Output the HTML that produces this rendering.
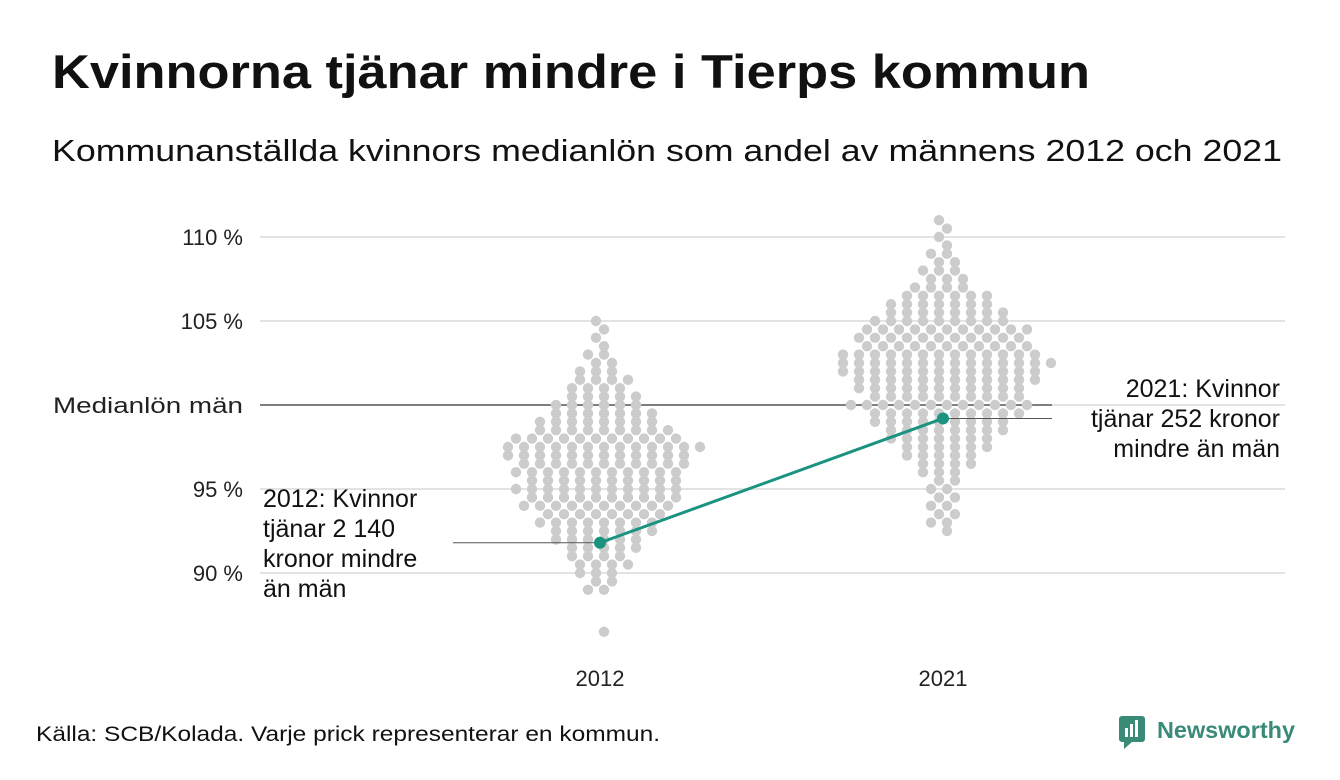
<!DOCTYPE html>
<html><head><meta charset="utf-8">
<style>
body{margin:0;background:#fff;width:1340px;height:780px;overflow:hidden;font-family:"Liberation Sans",sans-serif;}
svg{display:block}
</style></head>
<body>
<svg id="chart" width="1340" height="780">
<text x="52" y="88" font-size="47" font-weight="bold" fill="#111" textLength="1038" lengthAdjust="spacingAndGlyphs">Kvinnorna tjänar mindre i Tierps kommun</text>
<text x="52" y="161" font-size="31" fill="#111" textLength="1230" lengthAdjust="spacingAndGlyphs">Kommunanställda kvinnors medianlön som andel av männens 2012 och 2021</text>
<g id="grid"></g>
<g id="dots"></g>
<g id="anno"></g>
<text x="36" y="741" font-size="21" fill="#111" textLength="624" lengthAdjust="spacingAndGlyphs">Källa: SCB/Kolada. Varje prick representerar en kommun.</text>
<g>
<rect x="1119" y="716" width="26" height="26" rx="3" fill="#3a8a78"/>
<rect x="1125" y="728" width="3" height="9" fill="#fff"/><rect x="1130" y="724" width="3" height="13" fill="#fff"/><rect x="1135" y="720" width="3" height="17" fill="#fff"/>
<polygon points="1124,742 1132,742 1124,749" fill="#3a8a78"/>
<text x="1157" y="738" font-size="23" font-weight="bold" fill="#3a8a78" textLength="138" lengthAdjust="spacingAndGlyphs">Newsworthy</text>
</g>
</svg>
<script>
const years = ["2012","2021"];
const binValues2012 = [105,104.5,104,103.5,103,102.5,102,101.5,101,100.5,100,99.5,99,98.5,98,97.5,97,96.5,96,95.5,95,94.5,94,93.5,93,92.5,92,91.5,91,90.5,90,89.5,89,86.5];
const binCounts2012 = [1,1,1,1,2,2,3,4,4,5,6,7,8,9,11,13,12,11,11,10,11,10,10,8,8,7,6,5,4,4,3,2,2,1];
const binValues2021 = [111,110.5,110,109.5,109,108.5,108,107.5,107,106.5,106,105.5,105,104.5,104,103.5,103,102.5,102,101.5,101,100.5,100,99.5,99,98.5,98,97.5,97,96.5,96,95.5,95,94.5,94,93.5,93,92.5];
const binCounts2021 = [1,1,1,1,2,2,3,3,4,6,7,8,9,11,11,11,13,14,13,12,11,10,12,10,9,8,7,6,5,4,3,2,2,2,2,2,2,1];
const medianValues = [91.8, 99.2];
const yTicks = [110,105,100,95,90];
const yTickLabels = ["110 %","105 %","Medianlön män","95 %","90 %"];

const NS="http://www.w3.org/2000/svg";
const y = v => 405 - (v-100)*16.8;
const x = i => [600,943][i];
function mk(tag, attrs, parent){const e=document.createElementNS(NS,tag);for(const k in attrs)e.setAttribute(k,attrs[k]);parent.appendChild(e);return e;}
const grid=document.getElementById('grid'), dots=document.getElementById('dots'), anno=document.getElementById('anno');

yTicks.forEach((t,i)=>{
  const isMed = t===100;
  const l=mk('line',{x1:260,x2:isMed?1052:1285,y1:y(t),y2:y(t),stroke:isMed?'#333':'#e3e3e3','stroke-width':isMed?1.2:2},grid);
  
  
  if(isMed){const l2=mk('line',{x1:1052,x2:1285,y1:y(t),y2:y(t),stroke:'#e3e3e3','stroke-width':2},grid);
    }
  const tx=mk('text',{x:243,y:y(t)+8,'text-anchor':'end','font-size':22,fill:'#222'},grid);
  tx.textContent=yTickLabels[i];
  if(isMed){tx.setAttribute('textLength',190);tx.setAttribute('lengthAdjust','spacingAndGlyphs');}
  
  
});
years.forEach((yr,i)=>{
  const t=mk('text',{x:x(i),y:686,'text-anchor':'middle','font-size':22,fill:'#222'},grid);
  t.textContent=yr;
  
  
});
[[binValues2012,binCounts2012],[binValues2021,binCounts2021]].forEach(([vals,counts],i)=>{
  vals.forEach((v,b)=>{
    const n=counts[b];
    for(let k=0;k<n;k++){
      const off=(k-(n-1)/2)*16 + (b%2?4:-4);
      const c=mk('circle',{cx:x(i)+off,cy:y(v),r:5.2,fill:'#cccccc'},dots);
      
      
    }
  });
});
let a=mk('line',{x1:453,x2:x(0),y1:y(medianValues[0]),y2:y(medianValues[0]),stroke:'#555','stroke-width':1},anno);

a=mk('line',{x1:x(1),x2:1052,y1:y(medianValues[1]),y2:y(medianValues[1]),stroke:'#555','stroke-width':1},anno);

const tl=mk('line',{x1:x(0),y1:y(medianValues[0]),x2:x(1),y2:y(medianValues[1]),stroke:'#1a9480','stroke-width':3},anno);

medianValues.forEach((v,i)=>{
  const c=mk('circle',{cx:x(i),cy:y(v),r:6,fill:'#1a9480'},anno);
  
  
});
function lines(arr,xx,y0,anchor,name){
  const t=mk('text',{x:xx,y:y0,'text-anchor':anchor,'font-size':25,fill:'#111'},anno);
  
  arr.forEach((s,j)=>{const ts=mk('tspan',{x:xx,y:y0+j*30},t);ts.textContent=s;});
}
lines(["2012: Kvinnor","tjänar 2 140","kronor mindre","än män"],263,507,'start','annotation-2012');
lines(["2021: Kvinnor","tjänar 252 kronor","mindre än män"],1280,397,'end','annotation-2021');
</script>
</body></html>
